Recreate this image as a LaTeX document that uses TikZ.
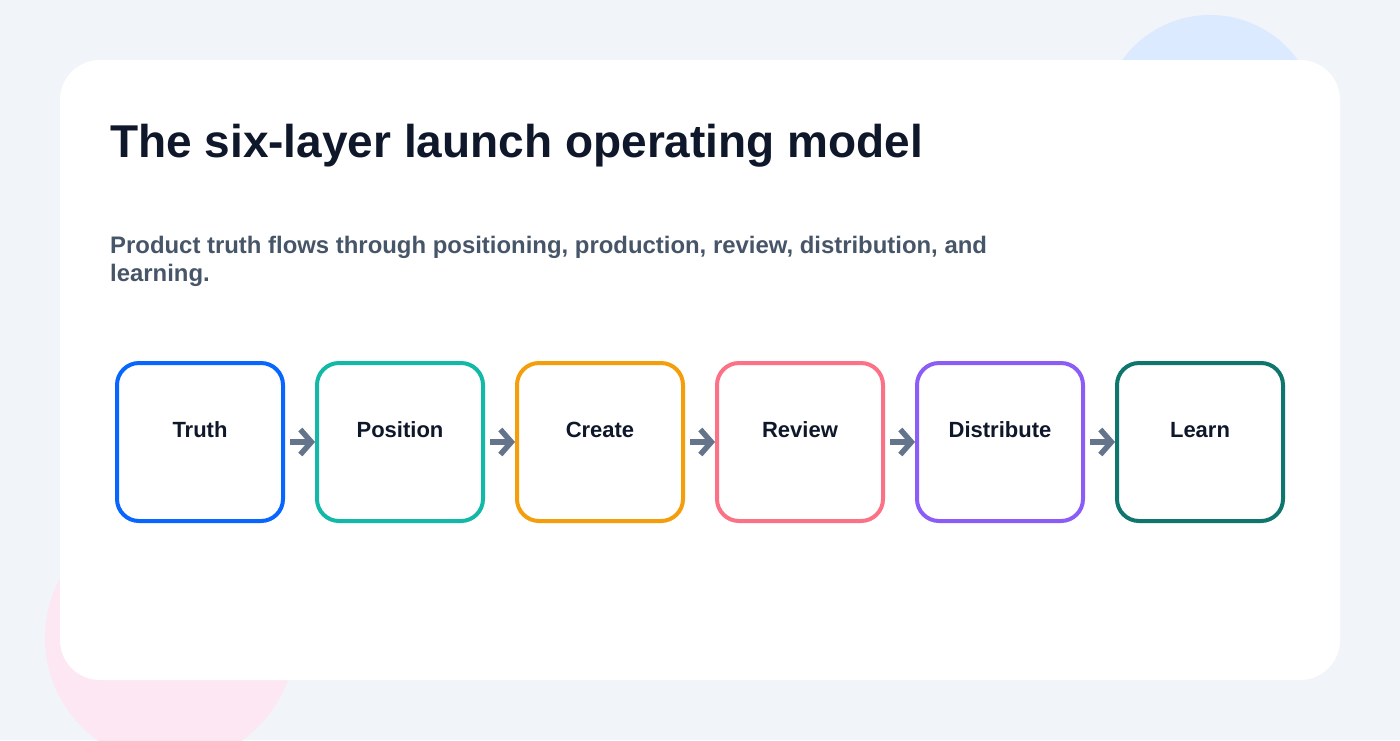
\documentclass[tikz,border=0pt]{standalone}
\usepackage{fontspec}
\setmainfont{Liberation Sans}
\usepackage{xcolor}
\usepackage{tikz}
\usetikzlibrary{positioning, arrows.meta, shapes}

\definecolor{pagebg}{HTML}{F1F4F9}
\definecolor{blobblue}{HTML}{DBEAFE}
\definecolor{blobpink}{HTML}{FCE7F3}
\definecolor{ink}{HTML}{0F172A}
\definecolor{subink}{HTML}{475569}
\definecolor{arrowgray}{HTML}{64748B}
\definecolor{cTruth}{HTML}{0866FF}
\definecolor{cPosition}{HTML}{14B8A6}
\definecolor{cCreate}{HTML}{F59E0B}
\definecolor{cReview}{HTML}{FB7185}
\definecolor{cDistribute}{HTML}{8B5CF6}
\definecolor{cLearn}{HTML}{0F766E}

\begin{document}
\begin{tikzpicture}[x=1pt, y=-1pt, node distance=30pt,
  stage/.style={draw=#1,line width=4pt,rounded corners=22pt,fill=white,minimum width=166pt,minimum height=158pt,
    inner sep=0pt,text=ink,font=\fontsize{22}{26}\selectfont\bfseries,text height=16pt,text depth=26pt},
  flow/.style={arrowgray,line width=5.5pt,shorten <=5pt,-{Straight Barb[length=11pt,width=25pt]}}]
  % background and soft blobs
  \useasboundingbox (0,0) rectangle (1400,740);
  \fill[pagebg] (0,0) rectangle (1400,740);
  \fill[blobblue] (1210,123) circle[radius=108];
  \fill[blobpink] (170,638) circle[radius=125];
  \fill[white, rounded corners=40pt] (60,60) rectangle (1340,680);
  % heading
  \node[anchor=base west, inner sep=0pt, text=ink, font=\fontsize{46}{54}\selectfont\bfseries] (title) at (110,157)
    {The six-layer launch operating model};
  \node[anchor=base west, inner sep=0pt, text=subink, align=left, font=\fontsize{23.9}{28}\selectfont\bfseries] (subtitle) at (110,281)
    {Product truth flows through positioning, production, review, distribution, and\\learning.};
  % stages
  \node[stage=cTruth] (truth) at (200,442) {Truth};
  \node[stage=cPosition, right=of truth] (position) {Position};
  \node[stage=cCreate, right=of position] (create) {Create};
  \node[stage=cReview, right=of create] (review) {Review};
  \node[stage=cDistribute, right=of review] (distribute) {Distribute};
  \node[stage=cLearn, right=of distribute] (learn) {Learn};
  \draw[flow] (truth) -- (position);
  \draw[flow] (position) -- (create);
  \draw[flow] (create) -- (review);
  \draw[flow] (review) -- (distribute);
  \draw[flow] (distribute) -- (learn);
\end{tikzpicture}
\end{document}
